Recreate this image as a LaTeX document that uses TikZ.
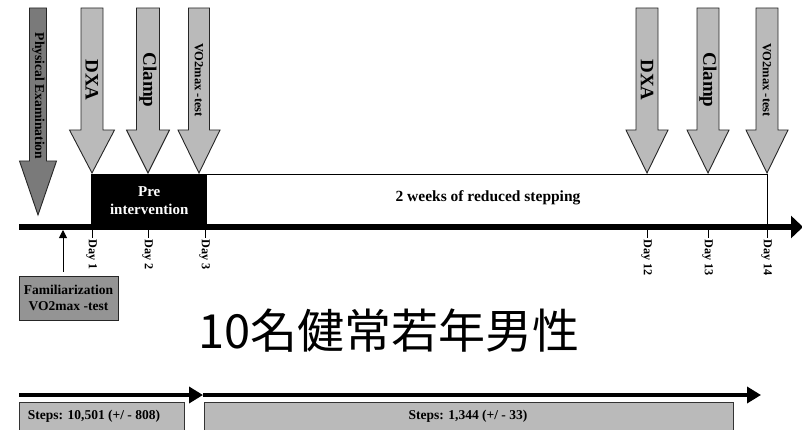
\documentclass[tikz,border=0pt]{standalone}
\usepackage{fontspec}
\setmainfont{Liberation Serif}
\newfontfamily\cjk{Noto Sans CJK JP}
\usetikzlibrary{arrows.meta}
\newcommand\barrow[7]{%
  \draw[#1] ({#2-#3},#5) -- ({#2+#3},#5) -- ({#2+#3},#6) -- ({#2+#4},#6) -- (#2,#7)
    -- ({#2-#4},#6) -- ({#2-#3},#6) -- cycle;}
\begin{document}
\begin{tikzpicture}[x=1pt,y=-1pt,
  lightarrow/.style={fill=black!27, draw=black!85, line width=0.9pt},
  darkarrow/.style={fill=black!52, draw=black!85, line width=0.9pt},
  bigtxt/.style={rotate=-90, inner sep=0, font=\bfseries\fontsize{19}{19}\selectfont},
  smalltxt/.style={rotate=-90, inner sep=0, font=\bfseries\fontsize{12.5}{12.5}\selectfont},
  daylbl/.style={rotate=-90, anchor=west, inner sep=0, font=\bfseries\fontsize{12.2}{12.2}\selectfont},
  tick/.style={line width=0.9pt},
  stepsbox/.style={fill=black!27, draw=black!80, line width=0.9pt, inner sep=0},
  stepstxt/.style={inner sep=0, font=\bfseries\fontsize{13.5}{13.5}\selectfont},
  timeline/.style={line width=6pt, -{Triangle[length=12pt,width=22pt]}},
  subline/.style={line width=3.5pt, -{Triangle[length=14pt,width=16pt]}}]
\useasboundingbox (0,0) rectangle (802,430);

% vertical block arrows
\barrow{darkarrow}{38}{8.5}{18.5}{8}{161}{215}
\barrow{lightarrow}{92}{11}{22.5}{8}{130}{173}
\barrow{lightarrow}{148}{11.5}{21.5}{8}{130}{173}
\barrow{lightarrow}{199}{10.5}{21}{8}{130}{173}
\barrow{lightarrow}{647}{11}{21}{8}{130}{173}
\barrow{lightarrow}{708}{11}{21}{8}{130}{173}
\barrow{lightarrow}{767}{11}{21}{8}{130}{173}

\node[rotate=-90, inner sep=0, font=\bfseries\fontsize{13.6}{13.6}\selectfont] (pe) at (38.5,96) {Physical Examination};
\node[bigtxt] (dxa1) at (92,80) {DXA};
\node[bigtxt] (cl1) at (148,80) {Clamp};
\node[smalltxt] (vo1) at (199,80) {VO2max -test};
\node[bigtxt] (dxa2) at (647,80) {DXA};
\node[bigtxt] (cl2) at (708,80) {Clamp};
\node[smalltxt] (vo2) at (767,80) {VO2max -test};

% boxes above timeline
\node[fill=black, text=white, inner sep=0, minimum width=116pt, minimum height=53pt, anchor=north west,
  align=center, font=\bfseries\fontsize{15}{18}\selectfont] (pre) at (91,174) {Pre\\intervention};
\coordinate (wbr) at (767,227);
\draw[line width=0.9pt] (pre.north east) -- (pre.north east -| wbr) -- (wbr);
\node[inner sep=0, font=\bfseries\fontsize{15.5}{15.5}\selectfont] (red) at (488,198) {2 weeks of reduced stepping};

% timeline
\coordinate (ts) at (19,227);
\coordinate (te) at (803,227);
\draw[timeline] (ts) -- (te);

% ticks and day labels
\foreach \x/\d [count=\i] in {92/1,148/2,205/3,647/12,708/13,767/14}{
  \coordinate (t\i) at (\x,227);
  \coordinate (b\i) at (\x,238);
  \draw[tick] (t\i) -- (b\i);
  \node[daylbl] (day\i) at (\x-0.5,239) {Day \d};
}

% familiarization
\node[fill=black!42, draw=black!85, line width=0.9pt, inner sep=0, minimum width=99pt, minimum height=44pt,
  align=center, font=\bfseries\fontsize{13.5}{16}\selectfont] (fam) at (68.5,298) {Familiarization\\VO2max -test};
\coordinate (fa) at (63,230);
\draw[line width=0.9pt, -{Triangle[length=8pt,width=8pt]}] (fam.north -| fa) ++(0,-4) -- (fa);

% title
\node[inner sep=0, font=\cjk\fontsize{47}{47}\selectfont] (title) at (389,331) {10名健常若年男性};

% bottom step arrows
\coordinate (s0) at (19,395);
\coordinate (s1) at (203,395);
\coordinate (s2) at (761,395);
\draw[subline] (s0) -- (s1);
\draw[subline] (s1) -- (s2);
\node[stepsbox, minimum width=165pt, minimum height=31pt, anchor=north west] (st1) at (19,402) {};
\node[stepsbox, minimum width=529pt, minimum height=31pt, anchor=north west] (st2) at (204,402) {};
\node[stepstxt] (sl1) at (94,416) {Steps: 10,501 (+/ - 808)};
\node[stepstxt] (sl2) at (468,416) {Steps: 1,344 (+/ - 33)};
\end{tikzpicture}
\end{document}
